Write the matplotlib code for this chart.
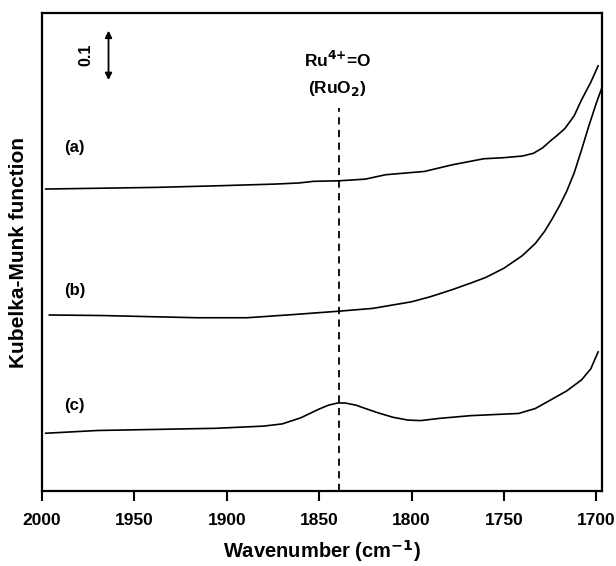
import matplotlib
matplotlib.use("Agg")
import matplotlib.pyplot as plt

plt.rcParams['font.family'] = ['Liberation Sans', 'DejaVu Sans']
plt.rcParams['font.weight'] = 'bold'
plt.rcParams['mathtext.default'] = 'bf'

# spectrum (a)
wn_a = [1998, 1978, 1938, 1904, 1874, 1861, 1853, 1839, 1825, 1814, 1793, 1778,
        1761, 1750, 1740, 1734, 1729, 1725, 1721, 1717, 1712, 1708, 1703, 1699]
km_a = [0.549, 0.550, 0.552, 0.555, 0.558, 0.560, 0.563, 0.564, 0.567, 0.575, 0.581,
        0.593, 0.604, 0.606, 0.609, 0.614, 0.624, 0.636, 0.647, 0.659, 0.682, 0.711,
        0.743, 0.773]

# spectrum (b)
wn_b = [1996, 1967, 1942, 1916, 1889, 1863, 1839, 1821, 1800, 1790, 1778, 1768,
        1760, 1750, 1740, 1733, 1728, 1724, 1720, 1716, 1712, 1708, 1704, 1700, 1697]
km_b = [0.320, 0.319, 0.317, 0.315, 0.315, 0.321, 0.327, 0.332, 0.344, 0.353, 0.366,
        0.378, 0.388, 0.405, 0.428, 0.450, 0.472, 0.494, 0.518, 0.545, 0.578, 0.620,
        0.664, 0.705, 0.733]

# spectrum (c)
wn_c = [1998, 1970, 1938, 1906, 1880, 1870, 1860, 1850, 1845, 1840, 1836, 1830,
        1825, 1818, 1810, 1802, 1795, 1785, 1768, 1742, 1733, 1725, 1716, 1708,
        1703, 1699]
km_c = [0.105, 0.110, 0.112, 0.114, 0.118, 0.122, 0.133, 0.149, 0.156, 0.160, 0.160,
        0.156, 0.150, 0.142, 0.134, 0.129, 0.128, 0.132, 0.137, 0.141, 0.150, 0.165,
        0.182, 0.202, 0.222, 0.253]

labels = ['(a)', '(b)', '(c)']
label_y = [0.625, 0.365, 0.156]
peak_wn = 1839
xticks = [2000, 1950, 1900, 1850, 1800, 1750, 1700]

fig = plt.figure(figsize=(6.16, 5.66), dpi=100)
ax = fig.add_axes([0.0682, 0.1325, 0.9088, 0.8445])

for w, k in [(wn_a, km_a), (wn_b, km_b), (wn_c, km_c)]:
    ax.plot(w, k, color='black', lw=1.2)

for lab, y in zip(labels, label_y):
    ax.text(1988, y, lab, fontsize=12, fontweight='bold', va='center', ha='left')

ax.plot([peak_wn, peak_wn], [0, 0.696], color='black', lw=1.3, ls=(0, (4, 3)))
ax.text(1840, 0.783, 'Ru$^{4{+}}$=O', fontsize=12.5, fontweight='bold', ha='center', va='center')
ax.text(1840, 0.732, '(RuO$_{2}$)', fontsize=12.5, fontweight='bold', ha='center', va='center')

# scale bar
ax.annotate('', xy=(1964, 0.842), xytext=(1964, 0.742),
            arrowprops=dict(arrowstyle='<|-|>', color='black', lw=1.3, mutation_scale=10))
ax.text(1976, 0.793, '0.1', rotation=90, fontsize=11.5, fontweight='bold', ha='center', va='center')

ax.set_xlim(2000, 1697)
ax.set_ylim(0, 0.869)
ax.set_xticks(xticks)
ax.set_yticks([])
ax.tick_params(axis='x', direction='out', length=7, width=1.5, pad=9, labelsize=12.5)
for s in ax.spines.values():
    s.set_linewidth(1.6)

ax.set_xlabel('Wavenumber (cm$^{-1}$)', fontsize=14.5, fontweight='bold', labelpad=7)
ax.set_ylabel('Kubelka-Munk function', fontsize=15, fontweight='bold', labelpad=10)

fig.savefig('out.png', dpi=100)
